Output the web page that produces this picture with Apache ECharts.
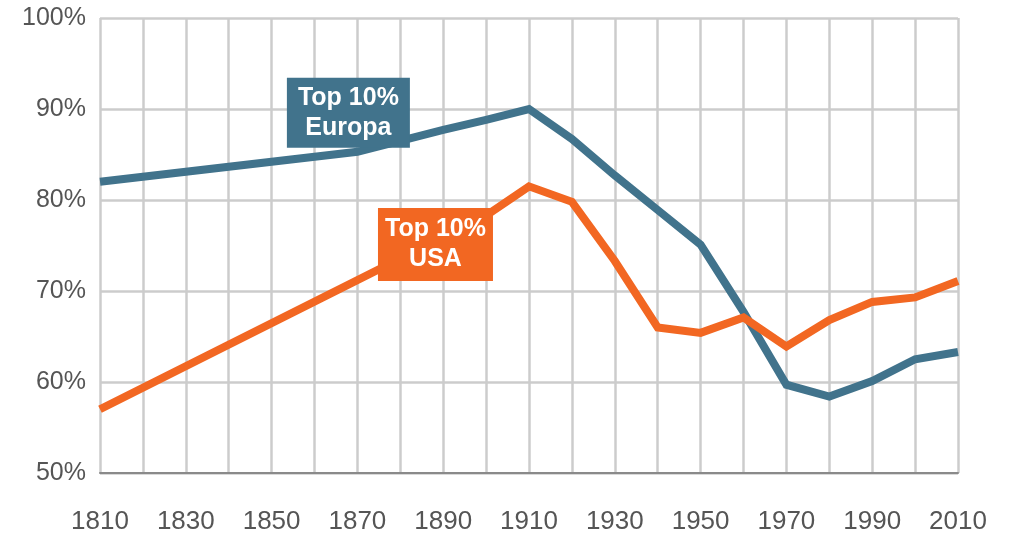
<!DOCTYPE html>
<html><head><meta charset="utf-8">
<script src="https://cdn.jsdelivr.net/npm/echarts@6/dist/echarts.min.js"></script>
<style>html,body{margin:0;padding:0;background:#fff}#c{width:1009px;height:536px}</style>
</head><body><div id="c"></div>
<script>
const europeYears = [1810, 1870, 1880, 1890, 1900, 1910, 1920, 1930, 1940, 1950, 1960, 1970, 1980, 1990, 2000, 2010];
const europeValues = [82.0, 85.3, 86.5, 87.7, 88.8, 90.0, 86.7, 82.7, 78.9, 75.1, 67.7, 59.7, 58.4, 60.1, 62.5, 63.3];
const usaYears = [1810, 1900, 1910, 1920, 1930, 1940, 1950, 1960, 1970, 1980, 1990, 2000, 2010];
const usaValues = [57.0, 78.3, 81.5, 79.8, 73.3, 66.0, 65.4, 67.1, 63.9, 66.8, 68.8, 69.3, 71.1];
const europeLabel = 'Top 10%\nEuropa';
const usaLabel = 'Top 10%\nUSA';
const europeLabelAt = [1867.9, 89.6];
const usaLabelAt = [1888.2, 75.1];

const pair = (xs, ys) => xs.map((x, i) => [x, ys[i]]);
const font = '"Liberation Sans", Arial, Helvetica, sans-serif';
const chart = echarts.init(document.getElementById('c'));
const box = (name, at, color, size) => ({
  symbol: 'rect', symbolSize: size, silent: true, animation: false,
  data: [{ coord: at, itemStyle: { color: color },
    label: { show: true, position: 'inside', formatter: name, color: '#fff',
      fontFamily: font, fontWeight: 'bold', fontSize: 25, lineHeight: 30 } }]
});
chart.setOption({
  animation: false,
  grid: { left: 100, right: 51, top: 18, bottom: 63 },
  xAxis: {
    type: 'value', min: 1810, max: 2010, interval: 10,
    axisTick: { show: false },
    axisLine: { show: true, lineStyle: { color: '#8a8a8a', width: 2 } },
    splitLine: { show: true, lineStyle: { color: '#cccccc', width: 2.5 } },
    axisLabel: { margin: 36, color: '#555', fontFamily: font, fontSize: 26,
      formatter: v => ((v - 1810) % 20 === 0 ? String(v) : '') }
  },
  yAxis: {
    type: 'value', min: 50, max: 100, interval: 10,
    axisTick: { show: false }, axisLine: { show: false },
    splitLine: { show: true, lineStyle: { color: '#cccccc', width: 2.5 } },
    axisLabel: { margin: 14, color: '#555', fontFamily: font, fontSize: 25,
      padding: [6, 0, 0, 0], formatter: '{value}%' }
  },
  series: [
    { type: 'line', name: 'Europa', data: pair(europeYears, europeValues), symbol: 'none',
      lineStyle: { color: '#41738c', width: 8, join: 'miter' }, z: 3,
      markPoint: box(europeLabel, europeLabelAt, '#41738c', [123, 70]) },
    { type: 'line', name: 'USA', data: pair(usaYears, usaValues), symbol: 'none',
      lineStyle: { color: '#f26722', width: 8, join: 'miter' }, z: 4,
      markPoint: box(usaLabel, usaLabelAt, '#f26722', [115, 73]) }
  ]
});
</script></body></html>
